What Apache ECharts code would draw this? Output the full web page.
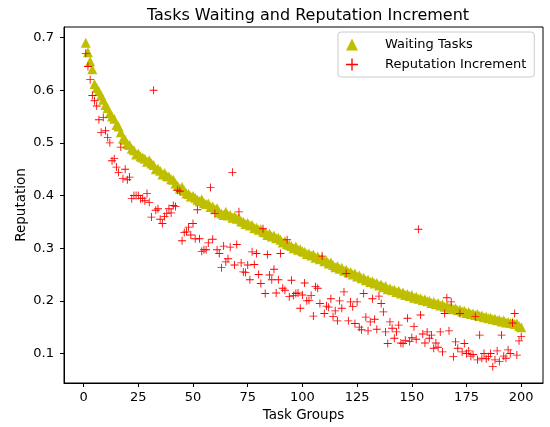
<!DOCTYPE html>
<html>
<head>
<meta charset="utf-8" />
<script src="https://cdn.jsdelivr.net/npm/echarts@6/dist/echarts.min.js"></script>
<style>
  html, body { margin: 0; padding: 0; background: #fff; }
  #chart { width: 550px; height: 427px; }
</style>
</head>
<body>
<div id="chart"></div>
<script>
// x of each point is its position in the array (task group 1..200)
var waitingTasks = [
  0.690, 0.672, 0.655, 0.640, 0.612, 0.604, 0.598, 0.590, 0.582, 0.572,
  0.566, 0.556, 0.550, 0.546, 0.534, 0.531, 0.520, 0.508, 0.506, 0.498,
  0.496, 0.489, 0.486, 0.478, 0.480, 0.474, 0.472, 0.470, 0.464, 0.467,
  0.461, 0.458, 0.450, 0.451, 0.447, 0.440, 0.443, 0.437, 0.436, 0.431,
  0.430, 0.423, 0.418, 0.413, 0.416, 0.409, 0.404, 0.403, 0.398, 0.399,
  0.396, 0.392, 0.389, 0.393, 0.386, 0.384, 0.385, 0.378, 0.379, 0.374,
  0.376, 0.368, 0.366, 0.363, 0.369, 0.362, 0.363, 0.358, 0.360, 0.356,
  0.357, 0.351, 0.350, 0.346, 0.348, 0.343, 0.344, 0.338, 0.339, 0.335,
  0.336, 0.331, 0.330, 0.325, 0.328, 0.322, 0.324, 0.319, 0.320, 0.316,
  0.311, 0.313, 0.308, 0.306, 0.304, 0.300, 0.303, 0.297, 0.298, 0.294,
  0.293, 0.289, 0.290, 0.286, 0.288, 0.282, 0.284, 0.279, 0.281, 0.275,
  0.276, 0.271, 0.273, 0.268, 0.264, 0.266, 0.261, 0.263, 0.257, 0.259,
  0.254, 0.255, 0.250, 0.252, 0.246, 0.248, 0.243, 0.244, 0.239, 0.240,
  0.236, 0.237, 0.233, 0.234, 0.229, 0.231, 0.226, 0.228, 0.222, 0.224,
  0.220, 0.221, 0.217, 0.219, 0.214, 0.216, 0.211, 0.213, 0.209, 0.211,
  0.206, 0.208, 0.204, 0.205, 0.201, 0.203, 0.199, 0.200, 0.196, 0.198,
  0.194, 0.196, 0.191, 0.193, 0.189, 0.190, 0.187, 0.188, 0.184, 0.186,
  0.182, 0.183, 0.180, 0.181, 0.177, 0.179, 0.175, 0.176, 0.173, 0.175,
  0.171, 0.172, 0.169, 0.170, 0.167, 0.168, 0.165, 0.166, 0.163, 0.164,
  0.161, 0.163, 0.159, 0.160, 0.158, 0.159, 0.156, 0.157, 0.152, 0.150
];

var reputationIncrement = [
  0.670, 0.645, 0.620, 0.590, 0.580, 0.570, 0.544, 0.520, 0.548, 0.523,
  0.510, 0.500, 0.466, 0.470, 0.454, 0.444, 0.492, 0.432, 0.450, 0.430,
  0.435, 0.394, 0.400, 0.400, 0.400, 0.394, 0.395, 0.390, 0.404, 0.387,
  0.359, 0.600, 0.372, 0.375, 0.355, 0.347, 0.360, 0.366, 0.375, 0.367,
  0.381, 0.379, 0.410, 0.408, 0.314, 0.330, 0.331, 0.340, 0.325, 0.347,
  0.318, 0.373, 0.318, 0.294, 0.297, 0.297, 0.310, 0.415, 0.317, 0.366,
  0.297, 0.290, 0.263, 0.304, 0.274, 0.280, 0.302, 0.444, 0.268, 0.307,
  0.369, 0.272, 0.255, 0.254, 0.268, 0.240, 0.293, 0.269, 0.290, 0.250,
  0.233, 0.337, 0.214, 0.288, 0.249, 0.240, 0.260, 0.215, 0.240, 0.290,
  0.224, 0.220, 0.316, 0.208, 0.239, 0.210, 0.214, 0.215, 0.186, 0.211,
  0.234, 0.200, 0.201, 0.210, 0.171, 0.227, 0.224, 0.195, 0.285, 0.176,
  0.190, 0.188, 0.204, 0.170, 0.181, 0.162, 0.200, 0.186, 0.217, 0.252,
  0.162, 0.198, 0.189, 0.157, 0.198, 0.150, 0.145, 0.214, 0.169, 0.143,
  0.160, 0.204, 0.165, 0.146, 0.209, 0.195, 0.179, 0.141, 0.119, 0.160,
  0.148, 0.129, 0.141, 0.154, 0.120, 0.119, 0.125, 0.167, 0.123, 0.130,
  0.151, 0.127, 0.336, 0.173, 0.137, 0.120, 0.141, 0.129, 0.135, 0.110,
  0.120, 0.112, 0.141, 0.103, 0.176, 0.206, 0.143, 0.198, 0.094, 0.122,
  0.110, 0.176, 0.103, 0.119, 0.100, 0.105, 0.095, 0.098, 0.170, 0.088,
  0.135, 0.091, 0.100, 0.090, 0.094, 0.100, 0.075, 0.088, 0.105, 0.085,
  0.135, 0.095, 0.091, 0.107, 0.100, 0.158, 0.176, 0.097, 0.124, 0.132
];

var xTicks = [0, 25, 50, 75, 100, 125, 150, 175, 200];
var yTicks = [0.1, 0.2, 0.3, 0.4, 0.5, 0.6, 0.7];

var font = "DejaVu Sans";
var plusSymbol = "path://M4,0h1v9h-1z M0,4h9v1h-9z";

function toPoints(values) {
  return values.map(function (v, i) {
    return [i + 1, v];
  });
}

var chart = echarts.init(document.getElementById("chart"), null, { renderer: "canvas" });

chart.setOption({
  animation: false,
  backgroundColor: "#fff",
  title: {
    text: "Tasks Waiting and Reputation Increment",
    left: 303,
    top: 3,
    textAlign: "center",
    textStyle: { fontFamily: font, fontSize: 16, fontWeight: "normal", color: "#000" }
  },
  grid: {
    left: 64,
    right: 7,
    top: 27,
    bottom: 44,
    show: true,
    borderColor: "#000",
    borderWidth: 1
  },
  legend: {
    orient: "vertical",
    left: 338,
    top: 32,
    padding: [6, 8, 6, 8],
    itemGap: 7,
    itemWidth: 12,
    itemHeight: 12,
    backgroundColor: "rgba(255,255,255,0.8)",
    borderColor: "#ccc",
    borderWidth: 1,
    borderRadius: 3,
    textStyle: { fontFamily: font, fontSize: 13, color: "#000", padding: [0, 0, 0, 22] },
    data: ["Waiting Tasks", "Reputation Increment"]
  },
  xAxis: {
    type: "value",
    min: -8.95,
    max: 209.95,
    name: "Task Groups",
    nameLocation: "middle",
    nameGap: 25,
    nameMoveOverlap: false,
    nameTextStyle: { fontFamily: font, fontSize: 13.5, color: "#000" },
    axisLine: { onZero: false, lineStyle: { color: "#000" } },
    axisTick: { show: true, length: 4, customValues: xTicks, lineStyle: { color: "#000" } },
    axisLabel: { customValues: xTicks, margin: 8, fontFamily: font, fontSize: 13, color: "#000" },
    splitLine: { show: false }
  },
  yAxis: {
    type: "value",
    min: 0.044,
    max: 0.72,
    name: "Reputation",
    nameLocation: "middle",
    nameGap: 36,
    nameMoveOverlap: false,
    nameTextStyle: { fontFamily: font, fontSize: 13.5, color: "#000" },
    axisLine: { show: true, onZero: false, lineStyle: { color: "#000" } },
    axisTick: { show: true, length: 4, customValues: yTicks, lineStyle: { color: "#000" } },
    axisLabel: {
      customValues: yTicks,
      margin: 10,
      fontFamily: font,
      fontSize: 13,
      color: "#000",
      formatter: function (v) { return v.toFixed(1); }
    },
    splitLine: { show: false }
  },
  series: [
    {
      name: "Waiting Tasks",
      type: "scatter",
      symbol: "triangle",
      symbolSize: 10,
      itemStyle: { color: "#bfbf00", opacity: 1 },
      data: toPoints(waitingTasks)
    },
    {
      name: "Reputation Increment",
      type: "scatter",
      symbol: plusSymbol,
      symbolSize: 8,
      itemStyle: { color: "#ff0000", opacity: 1 },
      data: toPoints(reputationIncrement)
    }
  ]
});
</script>
</body>
</html>
